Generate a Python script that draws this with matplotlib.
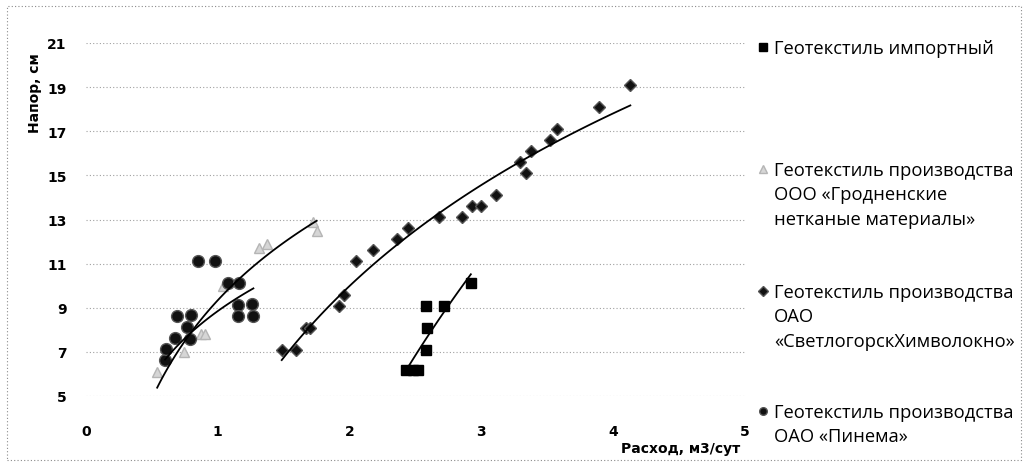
import numpy as np
import matplotlib
matplotlib.use("Agg")
import matplotlib.pyplot as plt
from matplotlib.lines import Line2D
from matplotlib.patches import Rectangle

# ---- data ----
imp_x = [2.43, 2.48, 2.52, 2.58, 2.59, 2.58, 2.72, 2.92]
imp_y = [6.2, 6.2, 6.2, 7.1, 8.1, 9.1, 9.1, 10.1]

grod_x = [0.54, 0.74, 0.87, 0.90, 1.04, 1.31, 1.37, 1.72, 1.75]
grod_y = [6.1, 7.0, 7.8, 7.8, 10.0, 11.7, 11.9, 12.9, 12.5]

svet_x = [1.485, 1.59, 1.67, 1.70, 1.92, 1.96, 2.05, 2.18, 2.36, 2.44, 2.68,
          2.85, 2.93, 3.00, 3.11, 3.29, 3.34, 3.38, 3.52, 3.57, 3.89, 4.13]
svet_y = [7.1, 7.1, 8.1, 8.1, 9.1, 9.6, 11.1, 11.6, 12.1, 12.6, 13.1,
          13.1, 13.6, 13.6, 14.1, 15.6, 15.1, 16.1, 16.6, 17.1, 18.1, 19.1]

pin_x = [0.60, 0.605, 0.675, 0.69, 0.77, 0.79, 0.80, 0.85, 0.98, 1.08, 1.16,
         1.15, 1.15, 1.26, 1.27]
pin_y = [6.65, 7.15, 7.64, 8.63, 8.14, 7.6, 8.66, 11.13, 11.13, 10.14, 10.11,
         9.12, 8.62, 9.15, 8.62]

# logarithmic trendline of the Pinema series, y = a + b*ln(x)
pin_trend_a = 8.85
pin_trend_b = 4.3

labels = [["Геотекстиль импортный"],
          ["Геотекстиль производства", "ООО «Гродненские", "нетканые материалы»"],
          ["Геотекстиль производства", "ОАО", "«СветлогорскХимволокно»"],
          ["Геотекстиль производства", "ОАО «Пинема»"]]

x_ticks = [0, 1, 2, 3, 4, 5]
y_ticks = [5, 7, 9, 11, 13, 15, 17, 19, 21]

W, H = 1027, 464
fig = plt.figure(figsize=(W / 100, H / 100), dpi=100)
ax = fig.add_axes([86 / W, 1 - 397 / H, (745 - 86) / W, (397 - 44) / H])


def log_trend(xs, ys, coef=None):
    xs = np.asarray(xs, float)
    ys = np.asarray(ys, float)
    xx = np.linspace(xs.min(), xs.max(), 100)
    if coef is None:
        b, a = np.polyfit(np.log(xs), ys, 1)
    else:
        a, b = coef
    return xx, a + b * np.log(xx)


series = [
    (imp_x, imp_y, dict(marker="s", ms=7.5, mfc="black", mec="black"), None),
    (grod_x, grod_y, dict(marker="^", ms=7, mfc="#d6d6d6", mec="#b5b5b5"), None),
    (svet_x, svet_y, dict(marker="D", ms=6.5, mfc="#111111", mec="#555555"), None),
    (pin_x, pin_y, dict(marker="o", ms=8.5, mfc="#111111", mec="#555555"),
     (pin_trend_a, pin_trend_b)),
]

for xs, ys, st, coef in series:
    ax.plot(xs, ys, linestyle="none", zorder=3, **st)
    tx, ty = log_trend(xs, ys, coef)
    ax.plot(tx, ty, color="black", lw=1.3, zorder=4)

ax.set_xlim(0, 5)
ax.set_ylim(5, 21)
ax.set_xticks(x_ticks)
ax.set_yticks(y_ticks)
tick_font = dict(family="DejaVu Sans", fontweight="bold", fontsize=10)
ax.set_xticklabels([str(v) for v in x_ticks], **tick_font)
ax.set_yticklabels([str(v) for v in y_ticks], **tick_font)
ax.tick_params(length=0)
ax.tick_params(axis="x", pad=20)
ax.tick_params(axis="y", pad=14)
for s in ax.spines.values():
    s.set_visible(False)
ax.grid(axis="y", color="#a0a0a0", linestyle=(0, (1, 2)), lw=0.8)

fig.text(35 / W, 1 - 93 / H, "Напор, см", rotation=90, ha="center", va="center",
         family="DejaVu Sans", fontweight="bold", fontsize=10)
fig.text(681 / W, 1 - 449 / H, "Расход, м3/сут", ha="center", va="center",
         family="DejaVu Sans", fontweight="bold", fontsize=10)

# legend (drawn at the right, marker aligned to first line as in source)
leg_y = [48, 170, 292, 412]
step = 24.3
for (xs, ys, st, coef), lines, yy in zip(series, labels, leg_y):
    st2 = dict(st)
    st2["ms"] = 5.5
    fig.add_artist(Line2D([763 / W], [1 - yy / H], linestyle="none",
                          transform=fig.transFigure, **st2))
    for i, line in enumerate(lines):
        fig.text(774 / W, 1 - (yy + 6 + i * step) / H, line, ha="left",
                 va="baseline", family="Open Sans", fontsize=13.2)

fig.add_artist(Rectangle((7 / W, 1 - 461 / H), (1021 - 7) / W, (461 - 7) / H,
                         transform=fig.transFigure, fill=False,
                         edgecolor="#8a8a8a", lw=0.8, linestyle=(0, (1, 2))))

fig.savefig("out.png", dpi=100)
